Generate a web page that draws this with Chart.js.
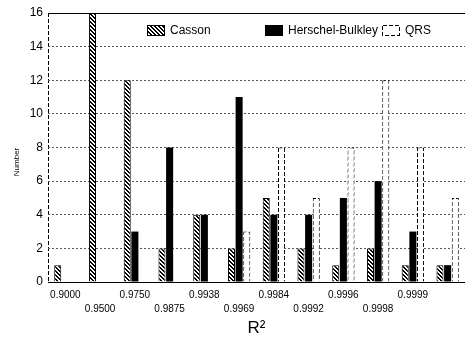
<!DOCTYPE html>
<html>
<head>
<meta charset="utf-8">
<script src="https://cdn.jsdelivr.net/npm/chart.js@4/dist/chart.umd.min.js"></script>
<style>
  body { margin: 0; background: #fff; }
  #wrap { width: 465px; height: 340px; }
</style>
</head>
<body>
<div id="wrap"><canvas id="myChart"></canvas></div>
<script>
// R^2 bins (two rows of labels, alternating)
var binLabels = ['0.9000', '0.9500', '0.9750', '0.9875', '0.9938', '0.9969',
                 '0.9984', '0.9992', '0.9996', '0.9998', '0.9999', ''];
var casson = [1, 16, 12, 2, 4, 2, 5, 2, 1, 2, 1, 1];
var herschel = [0, 0, 3, 8, 4, 11, 4, 4, 5, 6, 3, 1];
var qrs = [0, 0, 0, 0, 0, 3, 8, 5, 8, 12, 8, 5];
var yTicks = [0, 2, 4, 6, 8, 10, 12, 14, 16];

var FONT = "'Liberation Sans', Arial, sans-serif";

// diagonal hatch for Casson bars
function makeHatch() {
  var c = document.createElement('canvas');
  c.width = 4; c.height = 4;
  var g = c.getContext('2d');
  g.fillStyle = '#fff';
  g.fillRect(0, 0, 4, 4);
  g.fillStyle = '#000';
  for (var y = 0; y < 4; y++) {
    for (var x = 0; x < 4; x++) {
      if ((((x - y) % 4) + 4) % 4 < 2) g.fillRect(x, y, 1, 1);
    }
  }
  return g.createPattern(c, 'repeat');
}

// broken outline for QRS bars
function makeDash() {
  var c = document.createElement('canvas');
  c.width = 6; c.height = 6;
  var g = c.getContext('2d');
  g.fillStyle = '#000';
  for (var y = 0; y < 6; y++) {
    for (var x = 0; x < 6; x++) {
      if ((x + y) % 6 < 4) g.fillRect(x, y, 1, 1);
    }
  }
  return g.createPattern(c, 'repeat');
}

var labels = binLabels.map(function(l, i) {
  return i % 2 === 0 ? [l, ''] : ['', l];
});

// legend drawn inside the plot area, like the original figure
var legendX = [147, 265, 382];
var insideLegend = {
  id: 'insideLegend',
  afterDraw: function(chart) {
    var c = chart.ctx;
    c.save();
    c.font = '12px ' + FONT;
    c.textBaseline = 'middle';
    c.fillStyle = '#000';
    chart.data.datasets.forEach(function(ds, i) {
      var x = legendX[i], y = 25;
      c.fillStyle = ds.backgroundColor;
      c.fillRect(x, y, 18, 11);
      c.lineWidth = 1;
      c.strokeStyle = ds.borderColor;
      c.strokeRect(x + 0.5, y + 0.5, 17, 10);
      c.fillStyle = '#000';
      c.fillText(ds.label, x + 23, y + 6);
    });
    c.restore();
  }
};

var ctx = document.getElementById('myChart').getContext('2d');
var chart = new Chart(ctx, {
  type: 'bar',
  data: {
    labels: labels,
    datasets: [{
      label: 'Casson',
      data: casson,
      backgroundColor: makeHatch(),
      borderColor: '#000',
      borderWidth: 1
    }, {
      label: 'Herschel-Bulkley',
      data: herschel,
      backgroundColor: '#000',
      borderColor: '#000',
      borderWidth: 0
    }, {
      label: 'QRS',
      data: qrs,
      backgroundColor: '#fff',
      borderColor: makeDash(),
      borderWidth: 1
    }]
  },
  options: {
    responsive: true,
    maintainAspectRatio: false,
    animation: false,
    layout: { padding: { top: 13, right: 0, left: 0, bottom: 0 } },
    datasets: { bar: { categoryPercentage: 0.66, barPercentage: 0.92 } },
    plugins: {
      tooltip: { enabled: false },
      legend: { display: false }
    },
    scales: {
      x: {
        offset: true,
        grid: {
          offset: true,
          drawTicks: false,
          lineWidth: 1,
          color: function(c) { return c.index === 0 ? '#000' : 'rgba(0,0,0,0)'; }
        },
        border: { display: true, color: '#000', width: 1, dash: [4, 2] },
        ticks: {
          autoSkip: false,
          maxRotation: 0,
          padding: 6,
          color: '#000',
          font: { family: FONT, size: 10, lineHeight: 1.4 }
        },
        title: {
          display: true,
          text: 'R\u00B2',
          color: '#000',
          font: { family: FONT, size: 17 },
          padding: { top: 0, bottom: 1 }
        },
        afterFit: function(s) { s.height = 58; }
      },
      x2: {
        type: 'category',
        position: 'top',
        grid: { display: false },
        ticks: { display: false },
        border: { display: true, color: '#000', width: 1 },
        afterFit: function(s) { s.height = 0; }
      },
      y: {
        min: 0,
        max: 16,
        afterBuildTicks: function(s) {
          s.ticks = yTicks.map(function(v) { return { value: v }; });
        },
        grid: { drawTicks: false, color: '#555', lineWidth: 1 },
        border: { display: false, dash: [2, 2] },
        ticks: {
          padding: 5,
          color: '#000',
          font: { family: FONT, size: 12 }
        },
        title: {
          display: true,
          text: 'Number' + ' '.repeat(13),
          color: '#000',
          font: { family: FONT, size: 8 },
          padding: { top: 12, bottom: 0 }
        },
        afterFit: function(s) { s.width = 48; }
      }
    }
  },
  plugins: [insideLegend]
});
</script>
</body>
</html>
